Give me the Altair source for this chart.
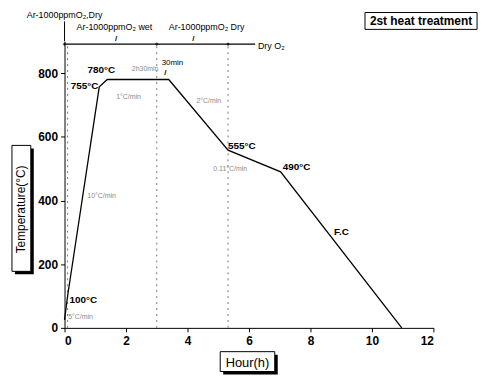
import altair as alt
import pandas as pd

# Main temperature profile
hours = [0.0, 0.1, 1.13, 1.39, 3.39, 5.32, 7.03, 10.97]
temps = [25, 100, 757, 780, 780, 558, 490, 0]

# Annotations (text, hour, temperature)
ann_text = ["780°C", "755°C", "100°C", "555°C", "490°C", "F.C"]
ann_x = [0.75, 0.2, 0.16, 5.32, 7.1, 8.77]
ann_y = [810, 760, 87, 570, 505, 302]

faint_text = ["1°C/min", "2h30min", "2°C/min", "0.11°C/min", "10°C/min", "5°C/min"]
faint_x = [1.68, 2.19, 4.29, 4.84, 0.74, 0.12]
faint_y = [726, 813, 713, 498, 414, 34]

top_text = ["Ar-1000ppmO₂,Dry", "Ar-1000ppmO₂ wet", "Ar-1000ppmO₂ Dry", "Dry O₂", "30min"]
top_x = [-1.23, 0.39, 3.39, 6.29, 3.16]
top_y = [984, 945, 945, 884, 831]
top_size = [9, 9, 9, 9, 8]

ptr_x = [1.68, 4.19, 3.28]
ptr_y = [906, 906, 800]

dotted_x = [0.1, 3.0, 5.32]
arrow_line_y = 891
arrow_line_x = [0.0, 6.2]
arrow_heads_x = [0.0, 3.0, 5.32]

df = pd.DataFrame({"h": hours, "t": temps})
df_ann = pd.DataFrame({"txt": ann_text, "h": ann_x, "t": ann_y})
df_faint = pd.DataFrame({"txt": faint_text, "h": faint_x, "t": faint_y})
df_top = pd.DataFrame({"txt": top_text, "h": top_x, "t": top_y, "s": top_size})
df_ptr = pd.DataFrame({"h": ptr_x, "t": ptr_y})
df_dot = pd.DataFrame({"h": dotted_x, "t0": [0] * 3, "t1": [arrow_line_y] * 3})
df_arr = pd.DataFrame({"h0": [arrow_line_x[0]], "h1": [arrow_line_x[1]], "t": [arrow_line_y]})
df_heads = pd.DataFrame({"h": arrow_heads_x, "t": [arrow_line_y] * 3})
df_one = pd.DataFrame({"a": [0]})

FONT = "Liberation Sans"

xs = alt.Scale(domain=[0, 12], nice=False)
ys = alt.Scale(domain=[0, 900], nice=False)

x_axis = alt.Axis(values=list(range(0, 13)), labelExpr="datum.value % 2 == 0 ? datum.label : ''",
                  title=None, grid=False, domainColor="black", tickColor="black",
                  labelColor="black", labelFont=FONT, labelFontSize=12, labelFontWeight="bold",
                  tickSize=4, labelPadding=4)
y_axis = alt.Axis(values=list(range(0, 901, 100)), labelExpr="datum.value % 200 == 0 ? datum.label : ''",
                  title=None, grid=False, domainColor="black", tickColor="black",
                  labelColor="black", labelFont=FONT, labelFontSize=12, labelFontWeight="bold",
                  tickSize=4, labelPadding=3)

line = alt.Chart(df).mark_line(color="black", strokeWidth=1.3).encode(
    x=alt.X("h:Q", scale=xs, axis=x_axis),
    y=alt.Y("t:Q", scale=ys, axis=y_axis),
)

dots = alt.Chart(df_dot).mark_rule(color="#777777", strokeDash=[2, 4], strokeWidth=1).encode(
    x=alt.X("h:Q", scale=xs), y=alt.Y("t0:Q", scale=ys), y2="t1:Q"
)

arr = alt.Chart(df_arr).mark_rule(color="black", strokeWidth=1.3, clip=False).encode(
    x=alt.X("h0:Q", scale=xs), x2="h1:Q", y=alt.Y("t:Q", scale=ys)
)
heads = alt.Chart(df_heads).mark_point(shape="diamond", filled=True, color="black", size=14, clip=False).encode(
    x=alt.X("h:Q", scale=xs), y=alt.Y("t:Q", scale=ys)
)
stub = alt.Chart(df_one).mark_rule(color="black", strokeWidth=1).encode(
    x=alt.value(0), y=alt.value(-20), y2=alt.value(0)
)

ann = alt.Chart(df_ann).mark_text(font=FONT, fontSize=10, fontWeight="bold", align="left",
                                  baseline="middle", color="black", clip=False).encode(
    x=alt.X("h:Q", scale=xs), y=alt.Y("t:Q", scale=ys), text="txt:N"
)
faint = alt.Chart(df_faint).mark_text(font=FONT, fontSize=7, align="left", baseline="middle",
                                      color="#8a8a8a").encode(
    x=alt.X("h:Q", scale=xs), y=alt.Y("t:Q", scale=ys), text="txt:N"
)
top = alt.Chart(df_top).mark_text(font=FONT, align="left", baseline="middle", color="black",
                                  clip=False).encode(
    x=alt.X("h:Q", scale=xs), y=alt.Y("t:Q", scale=ys), text="txt:N",
    size=alt.Size("s:Q", scale=None, legend=None)
)
ptr = alt.Chart(df_ptr).mark_text(text="/", font=FONT, fontSize=8, fontWeight="bold",
                                  color="black", clip=False).encode(
    x=alt.X("h:Q", scale=xs), y=alt.Y("t:Q", scale=ys)
)


def box(x0, x1, y0, y1, label, angle=0, size=12, weight="normal"):
    shadow = alt.Chart(df_one).mark_rect(color="black").encode(
        x=alt.value(x0 + 3), x2=alt.value(x1 + 3), y=alt.value(y0 + 3), y2=alt.value(y1 + 3))
    face = alt.Chart(df_one).mark_rect(fill="white", stroke="black", strokeWidth=1).encode(
        x=alt.value(x0), x2=alt.value(x1), y=alt.value(y0), y2=alt.value(y1))
    txt = alt.Chart(df_one).mark_text(text=label, font=FONT, fontSize=size, fontWeight=weight,
                                      angle=angle, align="center", baseline="middle",
                                      color="black").encode(
        x=alt.value((x0 + x1) / 2), y=alt.value((y0 + y1) / 2 + 1))
    return [shadow, face, txt]


xbox = box(157, 212, 313, 333, "Hour(h)", size=13)
ybox = box(-53, -34, 105, 232, "Temperature(°C)", angle=270, size=12)
tbox = alt.Chart(df_one).mark_rect(fill="white", stroke="black", strokeWidth=1).encode(
    x=alt.value(303), x2=alt.value(416), y=alt.value(-29), y2=alt.value(-12))
ttxt = alt.Chart(df_one).mark_text(text="2st heat treatment", font=FONT, fontSize=12,
                                   fontWeight="bold", align="center", baseline="middle",
                                   color="black").encode(x=alt.value(359.5), y=alt.value(-20))

chart = alt.layer(dots, arr, heads, stub, line, ann, faint, top, ptr, *xbox, *ybox, tbox, ttxt).properties(
    width=372, height=289,
    autosize=alt.AutoSizeParams(type="none"),
    padding={"left": 57, "top": 32, "right": 50, "bottom": 50},
    background="white",
).configure_view(stroke=None)

chart.save("out.html", embed_options={"renderer": "svg", "actions": False})
